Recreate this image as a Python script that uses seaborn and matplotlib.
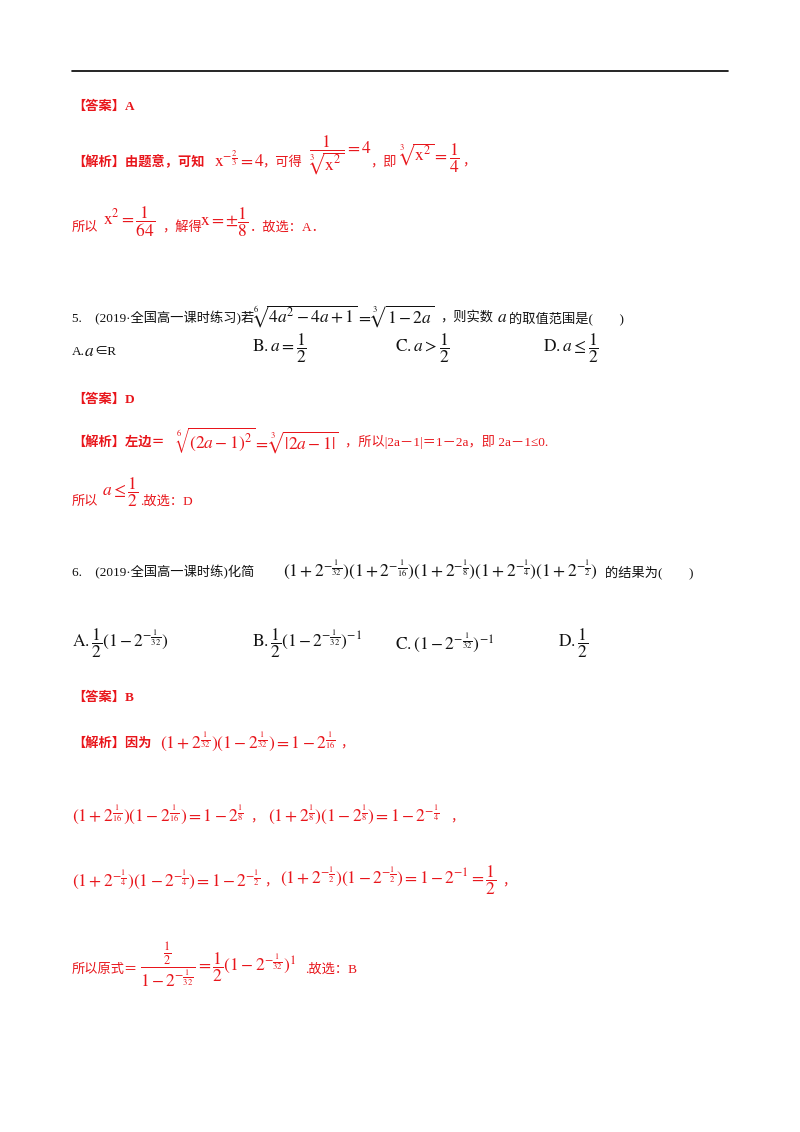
import matplotlib
matplotlib.use("Agg")
import matplotlib.pyplot as plt
import seaborn as sns

sns.set_theme(style="white")
plt.rcParams['font.family'] = ['Liberation Serif', 'Noto Sans CJK SC']
plt.rcParams['mathtext.fontset'] = 'stix'

RED = '#e8151b'
BLK = '#111111'
P = r'2^{-\frac{1}{32}}'

# (x px, y px, text, colour, is_math)
pieces = [
    (72, 107, '【答案】A', RED, False),
    (72, 162, '【解析】由题意，可知', RED, False),
    (214, 160, r'$\mathrm{x}^{-\frac{2}{3}}=4$', RED, True),
    (262, 162, '，可得', RED, False),
    (308, 155, r'$\dfrac{1}{\sqrt[3]{\mathrm{x}^2}}=4$', RED, True),
    (370, 162, '，即', RED, False),
    (398, 158, r'$\sqrt[3]{\mathrm{x}^2}=\dfrac{1}{4}$', RED, True),
    (462, 162, '，', RED, False),
    (72, 228, '所以', RED, False),
    (103, 222, r'$\mathrm{x}^2=\dfrac{1}{64}$', RED, True),
    (162, 228, '，解得', RED, False),
    (200, 222, r'$\mathrm{x}=\pm\dfrac{1}{8}$', RED, True),
    (250, 228, '．故选：A．', RED, False),
    (72, 318, '5.　(2019·全国高一课时练习)若', BLK, False),
    (252, 316, r'$\sqrt[6]{4a^2-4a+1}=\sqrt[3]{1-2a}$', BLK, True),
    (440, 318, '，则实数', BLK, False),
    (497, 318, r'$a$', BLK, True),
    (509, 318, '的取值范围是(　　)', BLK, False),
    (72, 352, 'A.', BLK, False),
    (84, 352, r'$a$', BLK, True),
    (94, 352, '∈R', BLK, False),
    (252, 348, r'$\mathrm{B}.a=\dfrac{1}{2}$', BLK, True),
    (395, 348, r'$\mathrm{C}.a>\dfrac{1}{2}$', BLK, True),
    (543, 348, r'$\mathrm{D}.a\leq\dfrac{1}{2}$', BLK, True),
    (72, 400, '【答案】D', RED, False),
    (72, 442, '【解析】左边＝', RED, False),
    (175, 440, r'$\sqrt[6]{\left(2a-1\right)^2}=\sqrt[3]{\left|2a-1\right|}$', RED, True),
    (345, 442, '，所以|2a－1|＝1－2a，即 2a－1≤0.', RED, False),
    (72, 502, '所以', RED, False),
    (102, 492, r'$a\leq\dfrac{1}{2}$', RED, True),
    (140, 502, '.故选：D', RED, False),
    (72, 572, '6.　(2019·全国高一课时练)化简', BLK, False),
    (283, 570, r'$\left(1+2^{-\frac{1}{32}}\right)\left(1+2^{-\frac{1}{16}}\right)\left(1+2^{-\frac{1}{8}}\right)\left(1+2^{-\frac{1}{4}}\right)\left(1+2^{-\frac{1}{2}}\right)$', BLK, True),
    (605, 572, '的结果为(　　)', BLK, False),
    (72, 643, r'$\mathrm{A}.\dfrac{1}{2}\left(1-' + P + r'\right)$', BLK, True),
    (252, 643, r'$\mathrm{B}.\dfrac{1}{2}\left(1-' + P + r'\right)^{-1}$', BLK, True),
    (395, 643, r'$\mathrm{C}.\left(1-' + P + r'\right)^{-1}$', BLK, True),
    (558, 643, r'$\mathrm{D}.\dfrac{1}{2}$', BLK, True),
    (72, 698, '【答案】B', RED, False),
    (72, 744, '【解析】因为', RED, False),
    (160, 742, r'$\left(1+2^{\frac{1}{32}}\right)\left(1-2^{\frac{1}{32}}\right)=1-2^{\frac{1}{16}}$', RED, True),
    (340, 744, '，', RED, False),
    (72, 815, r'$\left(1+2^{\frac{1}{16}}\right)\left(1-2^{\frac{1}{16}}\right)=1-2^{\frac{1}{8}}$', RED, True),
    (250, 817, '，', RED, False),
    (268, 815, r'$\left(1+2^{\frac{1}{8}}\right)\left(1-2^{\frac{1}{8}}\right)=1-2^{-\frac{1}{4}}$', RED, True),
    (450, 817, '，', RED, False),
    (72, 880, r'$\left(1+2^{-\frac{1}{4}}\right)\left(1-2^{-\frac{1}{4}}\right)=1-2^{-\frac{1}{2}}$', RED, True),
    (264, 882, '，', RED, False),
    (280, 880, r'$\left(1+2^{-\frac{1}{2}}\right)\left(1-2^{-\frac{1}{2}}\right)=1-2^{-1}=\dfrac{1}{2}$', RED, True),
    (502, 882, '，', RED, False),
    (72, 970, '所以原式＝', RED, False),
    (140, 965, r'$\dfrac{\frac{1}{2}}{1-2^{-\frac{1}{32}}}=\dfrac{1}{2}\left(1-2^{-\frac{1}{32}}\right)^{1}$', RED, True),
    (305, 970, '.故选：B', RED, False),
]

W, H = 800, 1132
fig = plt.figure(figsize=(8, 11.32), dpi=100)
fig.patch.set_facecolor('white')
ax = fig.add_axes([0, 0, 1, 1])
ax.set_xlim(0, W); ax.set_ylim(H, 0); ax.axis('off')
sns.lineplot(x=[72, 728], y=[71, 71], ax=ax, color='black', linewidth=1.2)

for x, y, t, c, m in pieces:
    ax.text(x, y, t, color=c, fontsize=12.5 if m else 9.5, va='center', ha='left',
            fontweight='bold' if ('【' in t) else 'normal')

fig.savefig('out.png', dpi=100, facecolor='white')
